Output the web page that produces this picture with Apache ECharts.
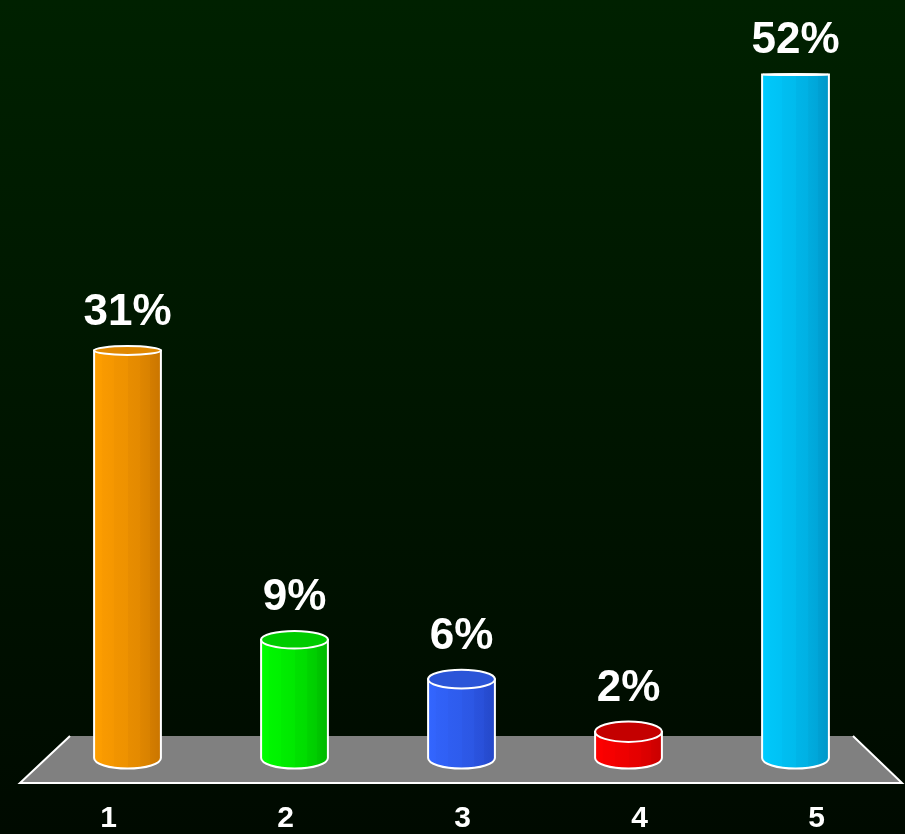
<!DOCTYPE html>
<html>
<head>
<meta charset="utf-8">
<script src="https://cdn.jsdelivr.net/npm/echarts@6/dist/echarts.min.js"></script>
<style>
  html, body { margin: 0; padding: 0; background: #000; }
  #chart { width: 905px; height: 834px; }
</style>
</head>
<body>
<div id="chart"></div>
<script>
const categories = ['1', '2', '3', '4', '5'];
const values = [31, 9, 6, 2, 52];
const colorsLight = ['#ff9f00', '#00ff00', '#3366ff', '#ff0000', '#00ccff'];
const colorsDark = ['#c97500', '#00b800', '#2447c8', '#c80000', '#0096c8'];
const colorsTop = ['#e08800', '#00cc00', '#2b55d8', '#c40000', '#00b4e6'];

const chart = echarts.init(document.getElementById('chart'));

// horizon used to flatten the caps of taller cylinders
const horizonY = 62;
const capRy = y => Math.max(0.5, (y - horizonY) * 0.0152);

function facetGradient(i) {
  const a = colorsLight[i], b = colorsDark[i];
  const mix = t => echarts.color.lerp(t, [a, b]);
  return {
    type: 'linear', x: 0, y: 0, x2: 1, y2: 0,
    colorStops: [
      { offset: 0, color: mix(0.0) },
      { offset: 0.12, color: mix(0.05) },
      { offset: 0.13, color: mix(0.12) },
      { offset: 0.3, color: mix(0.18) },
      { offset: 0.31, color: mix(0.26) },
      { offset: 0.5, color: mix(0.32) },
      { offset: 0.51, color: mix(0.42) },
      { offset: 0.68, color: mix(0.5) },
      { offset: 0.69, color: mix(0.6) },
      { offset: 0.82, color: mix(0.7) },
      { offset: 0.83, color: mix(0.8) },
      { offset: 1, color: mix(1) }
    ]
  };
}

function renderCylinder(params, api) {
  const idx = api.value(0);
  const val = api.value(1);
  const top = api.coord([idx, val]);
  const base = api.coord([idx, 0]);
  const w = api.size([1, 0])[0] * 0.4;
  const rx = w / 2;
  const cx = top[0];
  const ryTop = capRy(top[1]);
  const ryBot = capRy(base[1]);
  const l = cx - rx, r = cx + rx;
  const body =
    'M' + l + ' ' + top[1] +
    ' L' + l + ' ' + base[1] +
    ' A' + rx + ' ' + ryBot + ' 0 0 0 ' + r + ' ' + base[1] +
    ' L' + r + ' ' + top[1] + ' Z';
  return {
    type: 'group',
    children: [
      {
        type: 'path',
        shape: { pathData: body },
        style: { fill: facetGradient(idx), stroke: '#ffffff', lineWidth: 2 }
      },
      {
        type: 'ellipse',
        shape: { cx: cx, cy: top[1], rx: rx, ry: ryTop },
        style: { fill: colorsTop[idx], stroke: '#ffffff', lineWidth: 2 }
      },
      {
        type: 'text',
        x: cx,
        y: top[1] - ryTop - 11,
        style: {
          text: val + '%',
          fill: '#ffffff',
          font: 'bold 44px "Liberation Sans", Arial, sans-serif',
          align: 'center',
          verticalAlign: 'bottom'
        }
      }
    ]
  };
}

const option = {
  backgroundColor: {
    type: 'linear', x: 0, y: 0, x2: 0, y2: 1,
    colorStops: [
      { offset: 0, color: '#002100' },
      { offset: 1, color: '#000a00' }
    ]
  },
  animation: false,
  grid: [
    { left: 44, right: 26, top: 35, bottom: 76 },
    { left: 20, right: 0, top: 35, bottom: 76 }
  ],
  xAxis: [
    {
      type: 'category', data: categories, gridIndex: 0,
      axisLine: { show: false }, axisTick: { show: false }, axisLabel: { show: false }
    },
    {
      type: 'category', data: categories, gridIndex: 1,
      axisLine: { show: false }, axisTick: { show: false },
      axisLabel: {
        color: '#ffffff', fontSize: 30, fontWeight: 'bold',
        fontFamily: '"Liberation Sans", Arial, sans-serif',
        margin: 48, lineHeight: 30
      }
    }
  ],
  yAxis: [
    { type: 'value', min: 0, max: 55, gridIndex: 0, show: false, splitLine: { show: false } },
    { type: 'value', min: 0, max: 55, gridIndex: 1, show: false, splitLine: { show: false } }
  ],
  graphic: [
    {
      type: 'polygon', z: 0,
      shape: { points: [[20, 783], [70, 736], [853, 736], [902, 783]] },
      style: { fill: '#808080' }
    },
    {
      type: 'polyline', z: 1,
      shape: { points: [[70, 736], [20, 783], [902, 783], [853, 736]] },
      style: { stroke: '#ffffff', lineWidth: 2, fill: null }
    }
  ],
  series: [
    {
      type: 'custom',
      xAxisIndex: 0, yAxisIndex: 0,
      z: 5,
      renderItem: renderCylinder,
      data: values.map((v, i) => [i, v])
    }
  ]
};

chart.setOption(option);
</script>
</body>
</html>
